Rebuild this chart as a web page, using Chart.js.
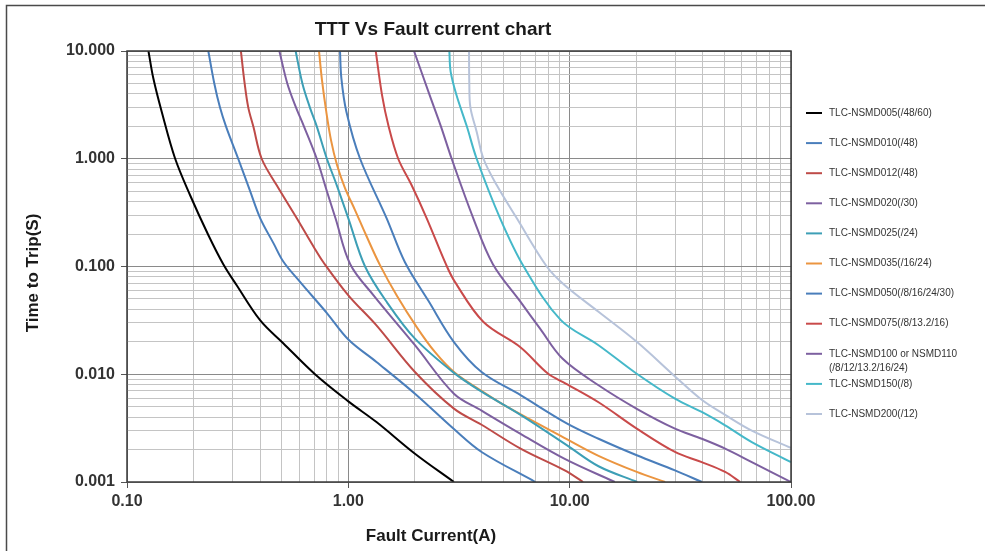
<!DOCTYPE html>
<html>
<head>
<meta charset="utf-8">
<title>TTT Vs Fault current chart</title>
<script src="https://cdn.jsdelivr.net/npm/chart.js@4.4.1/dist/chart.umd.min.js"></script>
<style>
  html, body { margin: 0; padding: 0; background: #fff; }
  #wrap { position: relative; width: 985px; height: 551px; }
</style>
</head>
<body>
<div id="wrap"><canvas id="chart" width="985" height="551"></canvas></div>
<script>
/* Time to trip vs fault current, log-log. Points are [current A, time s]. */
const chartTitle = "TTT Vs Fault current chart";
const xTitle = "Fault Current(A)";
const yTitle = "Time to Trip(S)";

const xDecades = [0.1, 1, 10, 100];
const yDecades = [0.001, 0.01, 0.1, 1, 10];

const seriesNames = [
  "TLC-NSMD005(/48/60)",
  "TLC-NSMD010(/48)",
  "TLC-NSMD012(/48)",
  "TLC-NSMD020(/30)",
  "TLC-NSMD025(/24)",
  "TLC-NSMD035(/16/24)",
  "TLC-NSMD050(/8/16/24/30)",
  "TLC-NSMD075(/8/13.2/16)",
  "TLC-NSMD100 or NSMD110\n(/8/12/13.2/16/24)",
  "TLC-NSMD150(/8)",
  "TLC-NSMD200(/12)",
];

const nsmd005 = [[0.125,10],[0.1315,5.58],[0.1435,2.73],[0.1648,1.01],[0.1926,0.461],[0.233,0.196],[0.2723,0.105],
  [0.313,0.067],[0.40,0.0316],[0.508,0.0194],[0.707,0.01],[1.0,0.0056],[1.34,0.0036],[2.0,0.00183],[3.0,0.001]];
const nsmd010 = [[0.233,10],[0.248,5],[0.263,3],[0.28,2],[0.318,1],[0.36,0.5],[0.40,0.28],[0.46,0.163],[0.51,0.11],
  [0.605,0.072],[0.80,0.037],[1.0,0.021],[1.34,0.013],[2.0,0.0066],[3.0,0.0031],[4.0,0.0019],[7.0,0.001]];
const nsmd012 = [[0.327,10],[0.34,5],[0.353,3],[0.372,2],[0.406,1],[0.474,0.57],[0.585,0.28],[0.70,0.15],[0.77,0.11],
  [1.0,0.054],[1.34,0.0284],[2.0,0.0105],[3.0,0.0048],[4.0,0.0034],[6.0,0.00204],[9.5,0.00128],[11.5,0.001]];
const nsmd020 = [[0.488,10],[0.53,5],[0.58,3],[0.63,2],[0.72,1],[0.80,0.5],[0.875,0.28],[1.02,0.105],
  [1.30,0.054],[2.0,0.0186],[3.0,0.0066],[4.0,0.0046],[6.0,0.0028],[9.5,0.00164],[16,0.001]];
const nsmd025 = [[0.578,10],[0.62,5],[0.67,3],[0.72,2],[0.80,1],[0.886,0.57],[1.0,0.28],[1.19,0.1],[1.5,0.046],
  [2.0,0.0214],[3.0,0.0103],[4.0,0.0069],[6.0,0.0042],[9.7,0.0022],[13.5,0.0014],[20.2,0.001]];
const nsmd035 = [[0.737,10],[0.76,5.4],[0.793,2.83],[0.835,1.49],[0.889,0.875],[0.966,0.535],[1.072,0.334],
  [1.202,0.196],[1.39,0.103],[1.66,0.0532],[2.02,0.0281],[2.46,0.0161],[3.03,0.0103],[3.94,0.00714],[5.2,0.005],
  [9.7,0.0025],[13.5,0.00175],[20.1,0.00124],[27,0.001]];
const nsmd050 = [[0.917,10],[0.93,5.6],[0.98,2.73],[1.13,1],[1.49,0.28],[1.80,0.11],[2.3,0.048],[3.0,0.0199],
  [4.0,0.0105],[6.0,0.0064],[9.7,0.0035],[13.5,0.00252],[20.1,0.00177],[29.9,0.00128],[39.6,0.001]];
const nsmd075 = [[1.33,10],[1.42,3.9],[1.52,2.0],[1.68,1],[1.93,0.57],[2.26,0.28],[2.76,0.105],[3.03,0.072],
  [4.08,0.0305],[5.97,0.0179],[8.0,0.0101],[9.6,0.0082],[13.5,0.0055],[20.1,0.00313],[29.9,0.0019],[39.5,0.00153],
  [50.4,0.00124],[58.9,0.001]];
const nsmd100 = [[1.98,10],[2.33,3.9],[2.62,2.0],[2.93,1],[3.67,0.28],[4.5,0.105],[6.0,0.0469],[7.35,0.0265],
  [9.3,0.0139],[13.5,0.0079],[20.1,0.00478],[29.9,0.00313],[39.5,0.00252],[50.4,0.00204],[66.5,0.00153],[100,0.001]];
const nsmd150 = [[2.86,10],[2.9,6.4],[3.08,3.9],[3.43,2.0],[3.80,1],[4.85,0.28],[6.2,0.1],[9.1,0.032],[13.5,0.0186],
  [20.1,0.0101],[29.9,0.00593],[39.5,0.00447],[50.4,0.00336],[66.5,0.00235],[100,0.00153]];
const nsmd200 = [[3.51,10],[3.52,5],[3.56,3],[3.8,1.78],[4.08,1],[4.68,0.57],[5.77,0.28],[7.88,0.1],[9.5,0.067],
  [13.5,0.038],[20.1,0.02],[30,0.0095],[39.5,0.0058],[50.4,0.0042],[66.5,0.003],[100,0.00207]];

const seriesPoints = [nsmd005, nsmd010, nsmd012, nsmd020, nsmd025, nsmd035, nsmd050, nsmd075, nsmd100, nsmd150, nsmd200];

/* styles */
const lineColors = ["#000000", "#4a7ebb", "#be4b48", "#7d60a0", "#3d9fb6", "#eb9540",
                    "#4a7ebb", "#c94a4a", "#7d60a0", "#45b8c9", "#b7c3da"];
const FONT = '"Liberation Sans", Arial, sans-serif';
const gridMajor = "#8a8a8a";
const gridMinor = "#c4c4c4";

function logTicks(decades) {
  const out = [];
  decades.forEach((d, i) => {
    out.push({ value: d, major: true });
    if (i < decades.length - 1) {
      for (let k = 2; k <= 9; k++) out.push({ value: d * k, major: false });
    }
  });
  return out;
}

function scaleOpts(decades, digits, pad, fitFn) {
  return {
    type: "logarithmic",
    min: decades[0],
    max: decades[decades.length - 1],
    afterBuildTicks: s => { s.ticks = logTicks(decades); },
    afterFit: fitFn,
    border: { display: false },
    grid: {
      color: c => (c.tick && c.tick.major ? gridMajor : gridMinor),
      tickColor: c => (c.tick && c.tick.major ? "#555" : "transparent"),
      tickLength: 6,
      lineWidth: 1,
    },
    ticks: {
      autoSkip: false,
      maxRotation: 0,
      padding: pad,
      color: "#333",
      font: { family: FONT, size: 16, weight: "bold" },
      callback: (v, i, ticks) => (ticks[i].major ? Number(v).toFixed(digits) : ""),
    },
  };
}

const decor = {
  id: "decor",
  beforeDraw(chart) {
    const ctx = chart.ctx;
    ctx.save();
    ctx.strokeStyle = "#4a4a4a";
    ctx.lineWidth = 1.5;
    ctx.beginPath();
    ctx.moveTo(6.5, 551); ctx.lineTo(6.5, 5.5); ctx.lineTo(985, 5.5);
    ctx.stroke();
    ctx.restore();
  },
  afterDraw(chart) {
    const { ctx, chartArea: a } = chart;
    ctx.save();
    ctx.strokeStyle = "#3a3a3a";
    ctx.lineWidth = 1.5;
    ctx.strokeRect(a.left, a.top, a.right - a.left, a.bottom - a.top);

    ctx.fillStyle = "#1a1a1a";
    ctx.textAlign = "center";
    ctx.textBaseline = "middle";
    ctx.font = `bold 19px ${FONT}`;
    ctx.fillText(chartTitle, a.left + 306, 30);
    ctx.font = `bold 17px ${FONT}`;
    ctx.fillText(xTitle, a.left + 304, 536);
    ctx.save();
    ctx.translate(33, a.top + 222);
    ctx.rotate(-Math.PI / 2);
    ctx.fillText(yTitle, 0, 0);
    ctx.restore();

    // legend
    ctx.textAlign = "left";
    ctx.font = `10px ${FONT}`;
    chart.data.datasets.forEach((ds, i) => {
      const y = 113 + i * 30.1;
      const x0 = a.right + 15;
      ctx.strokeStyle = ds.borderColor;
      ctx.lineWidth = 2;
      ctx.beginPath(); ctx.moveTo(x0, y); ctx.lineTo(x0 + 16, y); ctx.stroke();
      ctx.fillStyle = "#333";
      ds.label.split("\n").forEach((t, j) => ctx.fillText(t, x0 + 23, y + j * 14));
    });
    ctx.restore();
  },
};

new Chart(document.getElementById("chart"), {
  type: "line",
  data: {
    datasets: seriesPoints.map((pts, i) => ({
      label: seriesNames[i],
      data: pts.map(([x, y]) => ({ x, y })),
      borderColor: lineColors[i],
      backgroundColor: lineColors[i],
      borderWidth: 2,
      pointRadius: 0,
      fill: false,
      tension: 0.35,
    })),
  },
  options: {
    responsive: false,
    animation: false,
    layout: { padding: { top: 51, right: 194, left: 0, bottom: 0 } },
    plugins: { legend: { display: false }, title: { display: false }, tooltip: { enabled: false } },
    scales: {
      x: Object.assign(scaleOpts(xDecades, 2, 4, s => { s.height = 69; }), { position: "bottom" }),
      y: Object.assign(scaleOpts(yDecades, 3, 6, s => { s.width = 127; }), { position: "left" }),
    },
  },
  plugins: [decor],
});
</script>
</body>
</html>
